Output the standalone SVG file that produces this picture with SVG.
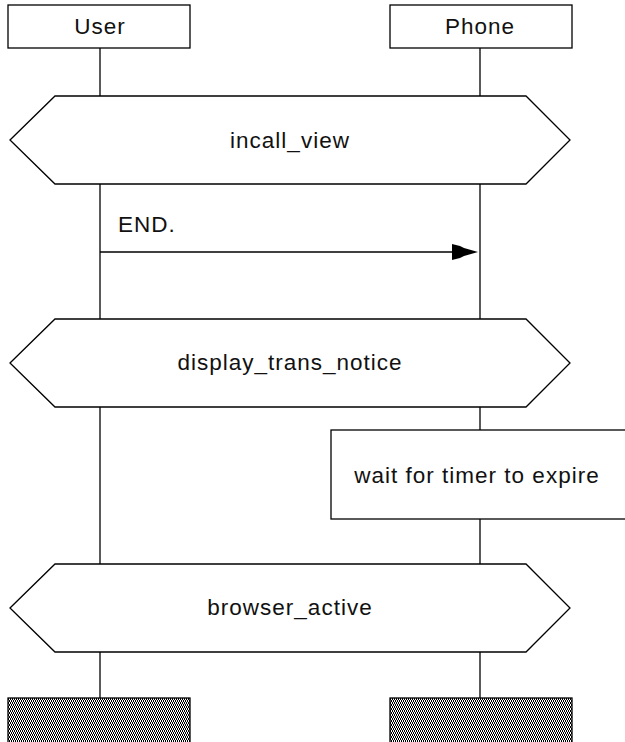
<svg xmlns="http://www.w3.org/2000/svg" width="625" height="742" viewBox="0 0 625 742">
  <style>
    .box { fill: #fff; stroke: #000; stroke-width: 1.3; }
    .line { fill: none; stroke: #000; stroke-width: 1.3; }
    .lbl { font-family: "Liberation Sans", Arial, sans-serif; font-size: 22.5px; letter-spacing: 1px; fill: #111; }
    .mid { text-anchor: middle; }
  </style>
  <defs>
    <!-- dense crosshatch used for the lifeline end blocks -->
    <pattern id="hatch" width="2" height="4" patternUnits="userSpaceOnUse">
      <rect width="2" height="4" fill="#000"/>
      <rect x="0" y="0" width="1" height="2" fill="#fff"/>
      <rect x="1" y="2" width="1" height="2" fill="#fff"/>
    </pattern>
  </defs>

  <!-- lifelines and the END. message -->
  <g id="connectors">
    <line class="line" x1="100" y1="48" x2="100" y2="96"/>
    <line class="line" x1="480" y1="48" x2="480" y2="96"/>
    <line class="line" x1="100" y1="184" x2="100" y2="319"/>
    <line class="line" x1="480" y1="184" x2="480" y2="319"/>
    <line class="line" x1="100" y1="407" x2="100" y2="564"/>
    <line class="line" x1="480" y1="407" x2="480" y2="430"/>
    <line class="line" x1="480" y1="519" x2="480" y2="564"/>
    <line class="line" x1="100" y1="652" x2="100" y2="698"/>
    <line class="line" x1="480" y1="652" x2="480" y2="698"/>
    <line class="line" x1="100" y1="252" x2="470" y2="252"/>
    <polygon fill="#000" points="452,244 460,246 464,248 478,252 464,256 460,258 452,260"/>
    <text class="lbl" x="118" y="232">END.</text>
  </g>

  <g id="user">
    <rect class="box" x="8" y="5" width="182" height="43"/>
    <text class="lbl mid" x="100" y="34">User</text>
  </g>
  <g id="phone">
    <rect class="box" x="390" y="5" width="182" height="43"/>
    <text class="lbl mid" x="480" y="34">Phone</text>
  </g>

  <g id="incall_view">
    <polygon class="box" points="10,140 55,96 526,96 570,140 526,184 55,184"/>
    <text class="lbl mid" x="290" y="148">incall_view</text>
  </g>

  <g id="display_trans_notice">
    <polygon class="box" points="10,363 55,319 526,319 570,363 526,407 55,407"/>
    <text class="lbl mid" x="290" y="370">display_trans_notice</text>
  </g>

  <g id="wait_timer">
    <rect class="box" x="331" y="430" width="300" height="89"/>
    <text class="lbl mid" x="477" y="483">wait for timer to expire</text>
  </g>

  <g id="browser_active">
    <polygon class="box" points="10,608 55,564 526,564 570,608 526,652 55,652"/>
    <text class="lbl mid" x="290" y="615">browser_active</text>
  </g>

  <g id="user_end">
    <rect x="8" y="698" width="182" height="50" fill="url(#hatch)" stroke="#000" stroke-width="1.3"/>
  </g>
  <g id="phone_end">
    <rect x="390" y="698" width="182" height="50" fill="url(#hatch)" stroke="#000" stroke-width="1.3"/>
  </g>
</svg>
